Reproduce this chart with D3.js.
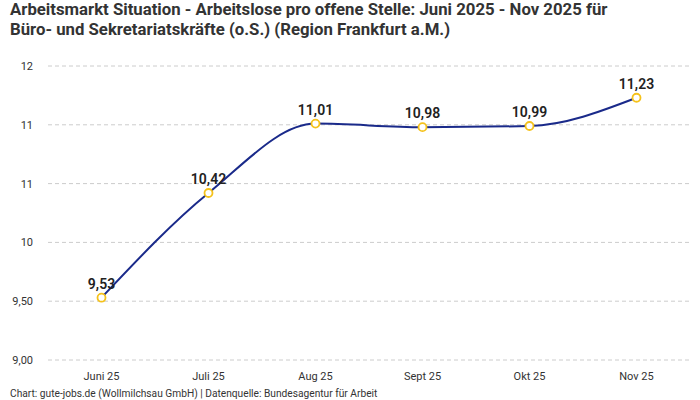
<!DOCTYPE html>
<html><head><meta charset="utf-8">
<script src="https://cdn.jsdelivr.net/npm/d3@7"></script>
<style>body{margin:0;background:#fff}svg{display:block}</style>
</head><body><svg id="c" width="700" height="400"></svg>
<script>
const categories = ["Juni 25","Juli 25","Aug 25","Sept 25","Okt 25","Nov 25"];
const values = [9.53, 10.42, 11.01, 10.98, 10.99, 11.23];
const valueLabels = ["9,53","10,42","11,01","10,98","10,99","11,23"];
const yTicks = [9, 9.5, 10, 10.5, 11, 11.5];
const yTickLabels = ["9,00","9,50","10","11","11","12"];
const titleLines = ["Arbeitsmarkt Situation - Arbeitslose pro offene Stelle: Juni 2025 - Nov 2025 für","Büro- und Sekretariatskräfte (o.S.) (Region Frankfurt a.M.)"];
const footer = "Chart: gute-jobs.de (Wollmilchsau GmbH) | Datenquelle: Bundesagentur für Arbeit";

const svg = d3.select("#c");
const font = "Roboto, 'Noto Sans', sans-serif";
const x = d3.scalePoint().domain(categories).range([48, 690]).padding(0.5);
const y = d3.scaleLinear().domain([9, 11.5]).range([360, 66]);

svg.append("g").selectAll("text").data(titleLines).join("text")
  .attr("x", 10).attr("y", (d,i)=>15+i*20)
  .attr("font-family", font).attr("font-weight", "bold").attr("font-size", 16.75)
  .attr("fill", "#333").text(d=>d);

const grid = svg.append("g");
grid.selectAll("line").data(yTicks).join("line")
  .attr("x1", 48).attr("x2", 690).attr("y1", d=>y(d)).attr("y2", d=>y(d))
  .attr("stroke", "#ccc").attr("stroke-dasharray", "4,3");
grid.selectAll("text").data(yTicks).join("text")
  .attr("x", 33).attr("y", d=>y(d)+4).attr("text-anchor", "end")
  .attr("font-family", font).attr("font-size", 11).attr("fill", "#333")
  .text((d,i)=>yTickLabels[i]);

svg.append("g").selectAll("text").data(categories).join("text")
  .attr("x", d=>x(d)).attr("y", 380).attr("text-anchor", "middle")
  .attr("font-family", font).attr("font-size", 11).attr("fill", "#333").text(d=>d);

const pts = categories.map((c,i)=>[x(c), y(values[i])]);
svg.append("path").attr("d", d3.line().curve(d3.curveMonotoneX)(pts))
  .attr("fill", "none").attr("stroke", "#1a2a8a").attr("stroke-width", 2);

svg.append("g").selectAll("circle").data(pts).join("circle")
  .attr("cx", d=>d[0]).attr("cy", d=>d[1]).attr("r", 4)
  .attr("fill", "#fff").attr("stroke", "#f5c21b").attr("stroke-width", 1.8);

svg.append("g").selectAll("text").data(pts).join("text")
  .attr("x", d=>d[0]).attr("y", d=>d[1]-9).attr("text-anchor", "middle")
  .attr("font-family", font).attr("font-weight", 600).attr("font-size", 14)
  .attr("fill", "#222").text((d,i)=>valueLabels[i]);

svg.append("text").attr("x", 10).attr("y", 397)
  .attr("font-family", font).attr("font-size", 10.2).attr("fill", "#333").text(footer);
</script></body></html>
